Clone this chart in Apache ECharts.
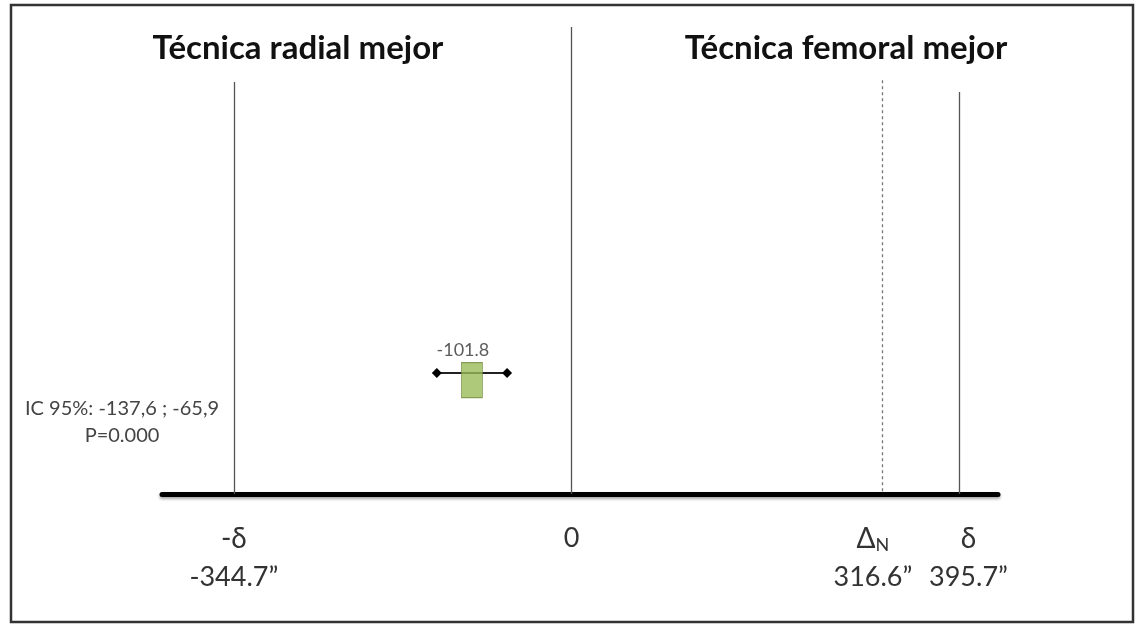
<!DOCTYPE html>
<html>
<head>
<meta charset="utf-8">
<script src="https://cdn.jsdelivr.net/npm/echarts@6/dist/echarts.min.js"></script>
<style>
html,body{margin:0;padding:0;background:#fff;}
#chart{width:1136px;height:625px;}
</style>
</head>
<body>
<div id="chart"></div>
<script>
// ---- data ----
const refValues = [-344.7, 0, 316.6, 395.7];
const refSymbols = ['-δ', '', 'Δ', 'δ'];
const refSubs = ['', '', 'N', ''];
const refTexts = ['-344.7”', '0', '316.6”', '395.7”'];
const refDashed = [false, false, true, false];
const estimate = [-101.8];
const ciLow = [-137.6];
const ciHigh = [-65.9];
const headings = ['Técnica radial mejor', 'Técnica femoral mejor'];
const ciText = ['IC 95%: -137,6 ; -65,9', 'P=0.000'];

// ---- layout (hidden vertical scale, 0 = axis line) ----
const lineTops = [88.2, 100, 88.6, 86.1];
const labelNudge = [0, 0, -9, 9];
const rowY = 25.9;

const chart = echarts.init(document.getElementById('chart'));
const font = 'Lato, "Open Sans", sans-serif';

function labelFor(i) {
  if (refValues[i] === 0) return '{v|' + refTexts[i] + '}\n{v| }';
  return '{s|' + refSymbols[i] + '}' + (refSubs[i] ? '{sub|' + refSubs[i] + '}' : '') + '\n{v|' + refTexts[i] + '}';
}

const richStyles = {
  s: { fontSize: 28, lineHeight: 39, fontFamily: font, color: '#333' },
  sub: { fontSize: 18, lineHeight: 39, fontFamily: font, color: '#333', padding: [14, 0, 0, 0] },
  v: { fontSize: 27, lineHeight: 39, fontFamily: font, color: '#333' }
};

const markLineData = refValues.map((v, i) => [
  {
    coord: [v, lineTops[i]],
    lineStyle: { type: refDashed[i] ? [3, 3] : 'solid', color: refDashed[i] ? '#777' : '#555' },
    label: { show: true, position: 'end', distance: 25, formatter: labelFor(i), rich: richStyles, align: 'center', verticalAlign: 'top', offset: [labelNudge[i], 0] }
  },
  { coord: [v, 0] }
]);

chart.setOption({
  animation: false,
  backgroundColor: '#fff',
  grid: { left: 162, right: 138, top: 27, bottom: 131 },
  xAxis: {
    type: 'value', min: -418, max: 435,
    splitLine: { show: false },
    axisTick: { show: false },
    axisLabel: { show: false },
    axisLine: { show: true, onZero: false, lineStyle: { color: '#000', width: 5, shadowBlur: 3, shadowColor: 'rgba(0,0,0,0.35)', shadowOffsetY: 2 } }
  },
  yAxis: { type: 'value', min: 0, max: 100, show: false },
  series: [
    {
      type: 'line', data: [], silent: true,
      markLine: { symbol: 'none', silent: true, lineStyle: { width: 1.3 }, data: markLineData }
    },
    {
      type: 'line', z: 3,
      data: [[ciLow[0], rowY], [ciHigh[0], rowY]],
      symbol: 'diamond', symbolSize: 10,
      lineStyle: { color: '#222', width: 2 },
      itemStyle: { color: '#000' }
    },
    {
      type: 'scatter', z: 5,
      data: estimate.map(v => [v, rowY]),
      symbol: 'rect', symbolSize: [21, 35], symbolOffset: [0, 7],
      itemStyle: { color: '#9bbb59', borderColor: '#71893f', borderWidth: 1 },
      label: { show: true, position: 'top', distance: 3, formatter: p => String(p.value[0]), fontSize: 18, color: '#333', fontFamily: font, offset: [-9, 0] }
    }
  ],
  graphic: [
    { type: 'rect', shape: { x: 11, y: 5, width: 1122, height: 617 }, style: { fill: 'none', stroke: '#333', lineWidth: 2.5 }, z: 100 },
    { type: 'text', x: 298, y: 48, style: { text: headings[0], font: 'bold 33px ' + font, fill: '#111', align: 'center', verticalAlign: 'middle', shadowBlur: 2, shadowColor: 'rgba(0,0,0,0.3)', shadowOffsetY: 1 } },
    { type: 'text', x: 846, y: 48, style: { text: headings[1], font: 'bold 33px ' + font, fill: '#111', align: 'center', verticalAlign: 'middle', shadowBlur: 2, shadowColor: 'rgba(0,0,0,0.3)', shadowOffsetY: 1 } },
    { type: 'text', x: 122, y: 422, style: { text: ciText.join('\n'), font: '20px ' + font, fill: '#444', align: 'center', verticalAlign: 'middle', lineHeight: 27 } }
  ]
});
</script>
</body>
</html>
